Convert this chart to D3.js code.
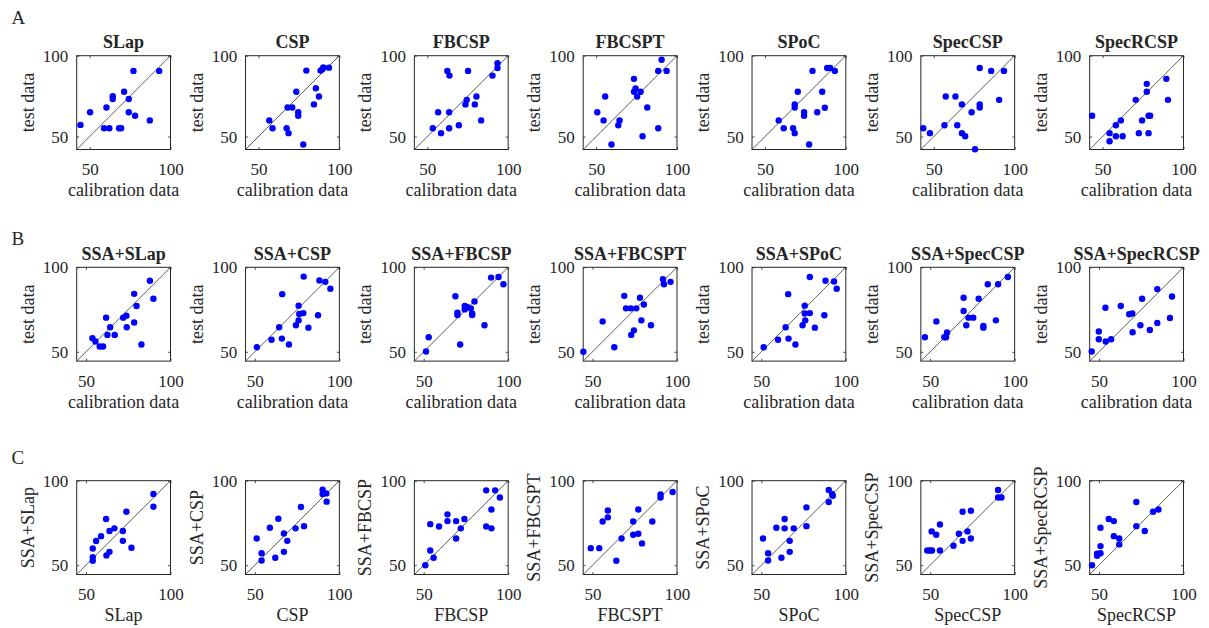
<html>
<head>
<meta charset="utf-8">
<script src="https://cdn.jsdelivr.net/npm/d3@7"></script>
<style>
  body { margin: 0; background: #fff; }
  svg text { font-family: "Liberation Serif", "Times New Roman", serif; fill: #262626; }
</style>
</head>
<body>
<svg id="fig" width="1209" height="628"></svg>
<script>
// ---- data ----
const methods = ["SLap", "CSP", "FBCSP", "FBCSPT", "SPoC", "SpecCSP", "SpecRCSP"];
const rowLetters = ["A", "B", "C"];
const tickValues = [50, 100];
const axisLimits = [[42, 100], [44.5, 100], [44.5, 100]];

// row A: calibration vs test, plain methods
const rowA = [
  [[44.3,57.2],[50.3,65.0],[60.4,68.0],[64.3,75.0],[64.3,73.2],[71.3,77.7],[77.1,90.6],[74.2,73.2],[74.2,65.0],[78.1,62.9],[87.2,60.0],[93.0,90.6],[58.9,55.1],[62.2,55.1],[68.2,55.1],[69.5,55.1]],
  [[56.7,60.0],[58.7,55.1],[67.4,55.1],[68.6,52.1],[68.0,68.0],[70.9,68.0],[73.4,77.7],[74.6,65.0],[74.6,62.9],[77.7,45.1],[79.6,90.8],[84.3,69.9],[85.5,79.9],[87.4,74.8],[88.4,90.8],[90.1,92.8],[93.6,92.6],[89.5,91.6]],
  [[53.4,55.1],[56.7,65.0],[58.5,52.1],[62.4,90.6],[63.7,87.7],[63.5,65.0],[63.5,55.1],[69.5,57.0],[73.6,69.9],[74.4,72.7],[75.2,90.6],[79.4,69.9],[80.4,74.8],[83.3,60.0],[90.3,87.7],[93.4,95.3],[93.4,92.4]],
  [[50.7,65.0],[54.6,60.0],[55.6,74.8],[59.5,45.1],[63.7,57.0],[64.5,60.0],[73.4,85.7],[73.4,77.7],[74.4,79.7],[75.4,74.8],[77.5,77.7],[78.7,50.2],[81.6,68.0],[88.4,55.1],[88.4,90.6],[90.5,97.5],[93.6,90.6]],
  [[58.5,60.0],[61.6,55.1],[67.4,55.1],[68.4,52.1],[68.4,69.9],[68.4,68.0],[70.3,77.7],[74.2,65.0],[74.2,62.9],[77.3,45.1],[79.4,90.6],[82.3,65.0],[85.4,77.7],[87.0,67.8],[88.5,92.4],[90.3,92.4],[93.2,90.6]],
  [[43.5,55.1],[47.6,52.1],[56.6,57.0],[57.4,74.8],[63.4,74.8],[64.5,57.0],[67.4,69.9],[67.4,52.1],[69.4,50.2],[73.4,65.0],[78.4,92.4],[78.4,69.9],[78.4,68.0],[75.5,42.2],[85.5,90.6],[90.4,72.7],[93.4,90.6]],
  [[43.5,62.9],[54.3,52.1],[54.3,47.1],[58.2,57.0],[58.2,50.2],[61.3,60.0],[62.4,50.2],[70.5,72.7],[72.4,52.1],[74.4,60.0],[77.3,82.6],[77.3,77.7],[78.4,62.9],[79.4,62.9],[78.4,52.1],[89.4,85.7],[90.4,72.7]]
];

// row B: calibration vs test, SSA + method
const rowB = [
  [[53.8,58.0],[55.6,56.1],[58.1,53.1],[60.1,53.1],[61.9,70.2],[62.7,60.0],[64.3,64.5],[67.0,60.0],[72.0,70.2],[73.9,71.4],[74.1,64.5],[78.5,84.3],[78.5,67.3],[79.9,77.1],[82.8,54.3],[87.8,92.0],[89.9,81.4]],
  [[51.2,52.7],[59.9,57.1],[64.4,64.5],[66.0,57.8],[66.2,84.1],[70.2,54.3],[74.3,65.7],[75.9,77.3],[75.9,68.6],[76.3,72.4],[78.7,72.9],[78.9,94.5],[81.7,64.3],[87.4,71.6],[88.2,92.2],[91.7,91.4],[94.7,87.3]],
  [[51.4,50.2],[53.0,58.6],[68.8,82.9],[70.0,73.1],[70.0,71.8],[71.6,54.3],[74.3,75.1],[74.3,77.1],[75.7,76.5],[77.9,75.7],[78.7,72.7],[78.7,71.8],[80.1,79.8],[86.0,65.7],[89.9,93.9],[94.3,94.3],[97.2,90.0]],
  [[44.6,50.0],[56.0,68.0],[62.9,52.7],[68.8,83.1],[69.8,75.7],[72.7,75.7],[72.9,60.0],[74.5,62.7],[75.9,75.7],[78.1,82.0],[78.9,68.6],[80.4,78.0],[84.6,65.7],[91.7,92.9],[92.3,90.0],[96.2,91.4]],
  [[51.4,52.7],[59.9,57.1],[66.1,57.8],[64.4,64.5],[65.9,84.1],[70.2,54.3],[74.4,65.7],[75.7,77.3],[75.7,72.7],[76.0,68.6],[78.7,72.9],[78.7,94.3],[81.7,64.3],[87.3,71.6],[88.0,92.0],[93.0,91.6],[94.6,87.3]],
  [[46.9,58.6],[53.7,68.0],[58.4,58.6],[59.4,58.6],[60.0,61.4],[69.8,82.0],[69.8,74.1],[71.4,65.7],[72.7,70.2],[75.5,70.2],[78.7,81.4],[81.5,65.3],[81.5,64.3],[84.1,90.0],[88.9,68.6],[90.2,90.0],[96.0,94.3]],
  [[45.7,50.2],[49.9,62.0],[49.9,57.4],[53.8,76.1],[54.0,56.1],[57.2,57.4],[62.9,77.1],[67.9,72.2],[69.7,72.7],[69.9,61.6],[74.5,65.7],[75.5,81.4],[80.1,62.9],[84.5,87.1],[84.5,67.1],[92.0,70.0],[93.2,82.7]]
];

// row C: method vs SSA + method
const rowC = [
  [[54.0,52.6],[54.0,54.8],[54.0,59.9],[56.0,64.3],[58.9,67.2],[61.9,77.3],[62.1,55.8],[63.9,57.9],[63.9,70.2],[66.8,71.8],[71.8,70.2],[71.8,64.4],[73.9,81.6],[76.9,60.3],[89.9,92.1],[89.9,84.6]],
  [[51.1,65.8],[54.0,57.1],[54.0,52.8],[58.9,72.2],[62.1,54.4],[63.9,77.5],[67.2,68.8],[67.2,57.9],[69.2,64.4],[74.1,71.8],[77.3,84.4],[79.1,73.1],[90.1,94.7],[90.1,92.1],[92.3,92.5],[92.5,87.6]],
  [[51.0,50.0],[53.9,58.7],[53.9,74.3],[55.9,54.4],[59.1,72.9],[64.1,80.1],[64.1,76.1],[69.2,65.8],[69.2,76.1],[72.0,71.8],[74.1,77.3],[87.0,94.3],[87.0,72.9],[90.1,83.0],[90.1,71.8],[92.3,94.3],[95.1,90.1]],
  [[49.0,60.1],[54.0,60.1],[56.0,75.9],[59.1,82.4],[59.1,78.3],[64.1,52.6],[67.2,65.8],[74.1,75.9],[74.1,68.0],[77.1,68.6],[77.1,83.0],[79.3,62.9],[85.4,75.9],[90.3,91.9],[90.3,90.1],[97.4,93.3]],
  [[51.0,65.8],[54.0,57.1],[54.0,52.8],[58.9,72.2],[61.9,54.4],[63.8,77.3],[63.8,71.8],[66.8,64.4],[66.8,57.9],[69.2,71.8],[76.7,84.2],[76.7,73.1],[89.9,94.5],[89.9,87.4],[91.9,92.1],[92.3,91.1]],
  [[48.3,58.7],[49.9,58.7],[51.1,58.7],[50.9,70.0],[53.6,68.0],[55.8,74.1],[55.8,58.7],[63.8,61.5],[67.0,68.6],[69.2,81.6],[69.2,64.4],[72.1,70.0],[74.1,82.2],[74.1,65.8],[90.2,94.5],[90.2,90.1],[92.2,90.1]],
  [[45.9,50.0],[48.9,55.6],[48.9,56.8],[50.9,57.1],[50.9,61.3],[50.9,72.2],[55.8,77.3],[58.8,76.1],[58.8,67.2],[62.0,65.8],[62.0,62.3],[72.1,87.4],[72.1,73.1],[77.1,70.2],[82.0,81.6],[85.2,83.0]]
];

const rows = [rowA, rowB, rowC];

// ---- layout ----
var svg = d3.select("#fig");
var left0 = 76.7, step = 168.83, size = 93.8;
var tops = [55.7, 267.3, 480.7];
var letterY = [24, 244.5, 463.5];

rows.forEach(function(row, r) {
  svg.append("text")
    .attr("x", 11.5).attr("y", letterY[r])
    .style("font-size", "19px")
    .attr("fill", "#000")
    .text(rowLetters[r]);

  row.forEach(function(pts, i) {
    var L = left0 + i * step, T = tops[r];
    var x = d3.scaleLinear().domain(axisLimits[r]).range([0, size]);
    var y = d3.scaleLinear().domain(axisLimits[r]).range([size, 0]);
    var g = svg.append("g").attr("transform", "translate(" + L + "," + T + ")");

    // inward ticks, labels outside
    g.append("g").attr("transform", "translate(0," + size + ")")
      .call(d3.axisBottom(x).tickValues(tickValues).tickSizeInner(-2.5).tickSizeOuter(0).tickPadding(13.8));
    g.append("g")
      .call(d3.axisLeft(y).tickValues(tickValues).tickSizeInner(-2.5).tickSizeOuter(0).tickPadding(8.4));
    g.append("g")
      .call(d3.axisTop(x).tickValues(tickValues).tickSizeInner(-2.5).tickSizeOuter(0).tickFormat(""));
    g.append("g").attr("transform", "translate(" + size + ",0)")
      .call(d3.axisRight(y).tickValues(tickValues).tickSizeInner(-2.5).tickSizeOuter(0).tickFormat(""));
    g.selectAll(".domain").remove();
    g.selectAll(".tick line").attr("stroke", "#262626").attr("stroke-width", 0.8);
    g.selectAll(".tick text").attr("font-family", null).style("font-size", "17px").attr("fill", "#262626");

    g.append("rect")
      .attr("width", size).attr("height", size)
      .attr("fill", "none").attr("stroke", "#262626").attr("stroke-width", 1);

    // identity line
    g.append("line")
      .attr("x1", x(axisLimits[r][0])).attr("y1", y(axisLimits[r][0]))
      .attr("x2", x(100)).attr("y2", y(100))
      .attr("stroke", "#333").attr("stroke-width", 0.8);

    g.selectAll(".dot").data(pts).enter().append("circle")
      .attr("class", "dot")
      .attr("cx", function(d) { return x(d[0]); })
      .attr("cy", function(d) { return y(d[1]); })
      .attr("r", 3.2)
      .attr("fill", "#0000ff");

    var xl, yl;
    if (r < 2) {
      g.append("text")
        .attr("x", size / 2).attr("y", -7.5)
        .attr("text-anchor", "middle")
        .style("font-size", "18px").style("font-weight", "bold")
        .attr("fill", "#000")
        .text(r === 0 ? methods[i] : "SSA+" + methods[i]);
      xl = "calibration data"; yl = "test data";
    } else {
      xl = methods[i]; yl = "SSA+" + methods[i];
    }
    g.append("text")
      .attr("x", size / 2).attr("y", size + 47)
      .attr("text-anchor", "middle")
      .style("font-size", "18px")
      .text(xl);
    g.append("text")
      .attr("transform", "translate(-43," + (size / 2) + ") rotate(-90)")
      .attr("text-anchor", "middle")
      .style("font-size", "18px")
      .text(yl);
  });
});
</script>
</body>
</html>
